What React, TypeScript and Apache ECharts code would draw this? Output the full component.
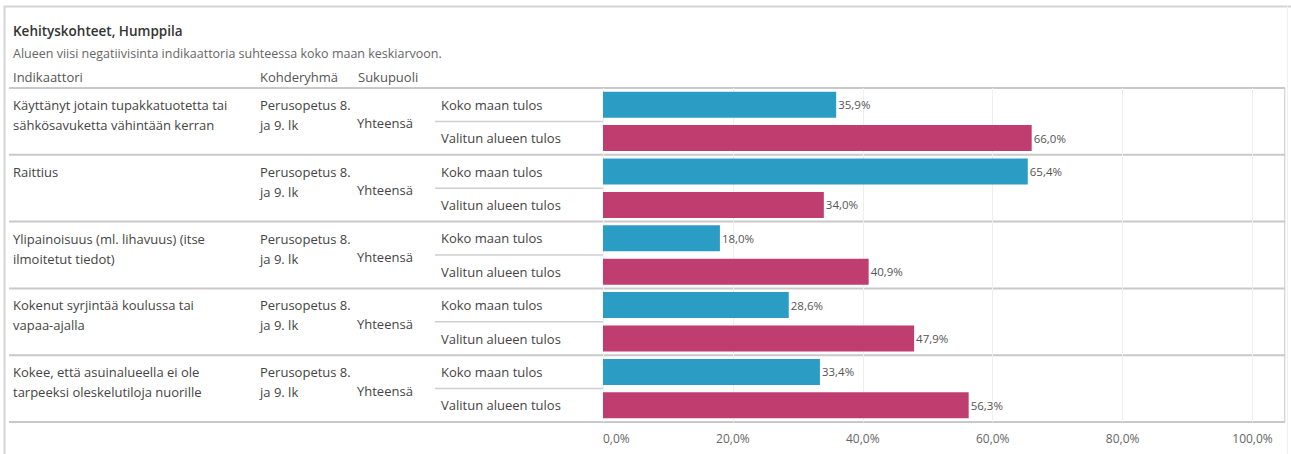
import React, { useEffect, useRef } from "react";
import * as echarts from "echarts";

const title = "Kehityskohteet, Humppila";
const subtitle = "Alueen viisi negatiivisinta indikaattoria suhteessa koko maan keskiarvoon.";
const headers = ["Indikaattori", "Kohderyhmä", "Sukupuoli"];
const indicators = [
  "Käyttänyt jotain tupakkatuotetta tai\nsähkösavuketta vähintään kerran",
  "Raittius",
  "Ylipainoisuus (ml. lihavuus) (itse\nilmoitetut tiedot)",
  "Kokenut syrjintää koulussa tai\nvapaa-ajalla",
  "Kokee, että asuinalueella ei ole\ntarpeeksi oleskelutiloja nuorille",
];
const targetGroups = [
  "Perusopetus 8.\nja 9. lk",
  "Perusopetus 8.\nja 9. lk",
  "Perusopetus 8.\nja 9. lk",
  "Perusopetus 8.\nja 9. lk",
  "Perusopetus 8.\nja 9. lk",
];
const genders = ["Yhteensä", "Yhteensä", "Yhteensä", "Yhteensä", "Yhteensä"];
const measures = ["Koko maan tulos", "Valitun alueen tulos"];
const kokoMaa = [35.9, 65.4, 18.0, 28.6, 33.4];
const valittu = [66.0, 34.0, 40.9, 47.9, 56.3];

const W = 1291;
const H = 454;
const FONT = "'Open Sans', sans-serif";

export default function App() {
  const ref = useRef<HTMLDivElement>(null);
  useEffect(() => {
    if (!ref.current) return;
    const chart = echarts.init(ref.current, undefined, { renderer: "svg" });

    const gridLeft = 603;
    const gridRightX = 1285;
    const gridTop = 88;
    const gridBottomY = 422;
    const rowH = (gridBottomY - gridTop) / indicators.length;

    const categories: string[] = [];
    const blue: any[] = [];
    const red: any[] = [];
    indicators.forEach((_, i) => {
      categories.push(measures[0], measures[1]);
      blue.push(kokoMaa[i], "-");
      red.push("-", valittu[i]);
    });

    const fmt = (v: number) => v.toFixed(1).replace(".", ",") + "%";

    const lineColor = "#c9c9c9";
    const textColor = "#444";
    const graphic: any[] = [];
    // outer frame
    graphic.push({ type: "line", shape: { x1: 4, y1: 6.5, x2: W, y2: 6.5 }, style: { stroke: "#d4d4d4", lineWidth: 2 }, silent: true });
    graphic.push({ type: "line", shape: { x1: 4.5, y1: 6, x2: 4.5, y2: H }, style: { stroke: "#d4d4d4", lineWidth: 2 }, silent: true });
    graphic.push({ type: "line", shape: { x1: 1287.5, y1: 6, x2: 1287.5, y2: H }, style: { stroke: "#f0f0f0", lineWidth: 1 }, silent: true });
    // plot right border
    graphic.push({ type: "line", shape: { x1: gridRightX, y1: gridTop, x2: gridRightX, y2: gridBottomY }, style: { stroke: lineColor, lineWidth: 1.5 }, silent: true });
    // title texts
    graphic.push({ type: "text", x: 13, y: 31, style: { text: title, font: `600 13.5px ${FONT}`, fill: "#333", verticalAlign: "middle" } });
    graphic.push({ type: "text", x: 13, y: 53, style: { text: subtitle, font: `12.5px ${FONT}`, fill: "#666", verticalAlign: "middle" } });
    const headerX = [13, 260, 358];
    headers.forEach((h, k) => {
      graphic.push({ type: "text", x: headerX[k], y: 77, style: { text: h, font: `13px ${FONT}`, fill: "#555", verticalAlign: "middle" } });
    });
    // row lines
    for (let i = 0; i <= indicators.length; i++) {
      const y = gridTop + i * rowH;
      graphic.push({ type: "line", shape: { x1: 9, y1: y, x2: gridRightX, y2: y }, style: { stroke: lineColor, lineWidth: 2 }, silent: true });
    }
    indicators.forEach((ind, i) => {
      const top = gridTop + i * rowH;
      graphic.push({ type: "text", x: 13, y: top + 7, style: { text: ind, font: `13px ${FONT}`, fill: textColor, verticalAlign: "top", lineHeight: 20 } });
      graphic.push({ type: "text", x: 260, y: top + 7, style: { text: targetGroups[i], font: `13px ${FONT}`, fill: textColor, verticalAlign: "top", lineHeight: 20 } });
      graphic.push({ type: "text", x: 357, y: top + rowH / 2 + 2, style: { text: genders[i], font: `13px ${FONT}`, fill: textColor, verticalAlign: "middle" } });
      graphic.push({ type: "line", shape: { x1: 435, y1: top + rowH / 2, x2: gridLeft, y2: top + rowH / 2 }, style: { stroke: "#cfcfcf", lineWidth: 1.5 }, silent: true });
    });

    chart.setOption({
      animation: false,
      backgroundColor: "#fff",
      textStyle: { fontFamily: FONT },
      grid: { left: gridLeft, top: gridTop, right: W - gridRightX, bottom: H - gridBottomY, containLabel: false },
      xAxis: {
        type: "value",
        min: 0,
        max: 105,
        interval: 20,
        axisLine: { show: false },
        axisTick: { show: false },
        splitLine: { show: true, lineStyle: { color: "#efefef", width: 1 } },
        axisLabel: {
          color: "#666",
          fontSize: 12,
          margin: 10,
          showMaxLabel: false,
          alignMinLabel: "left",
          formatter: (v: number) => (v % 20 === 0 ? fmt(v) : ""),
        },
      },
      yAxis: {
        type: "category",
        inverse: true,
        data: categories,
        axisLine: { show: false },
        axisTick: { show: false },
        splitLine: { show: false },
        axisLabel: { align: "left", margin: gridLeft - 441, color: textColor, fontSize: 13 },
      },
      series: [
        {
          type: "bar",
          data: blue,
          barWidth: 26,
          barGap: "-100%",
          itemStyle: { color: "#2b9dc5" },
          label: { show: true, position: "right", distance: 2, color: "#555", fontSize: 11.5, formatter: (p: any) => fmt(p.value) },
        },
        {
          type: "bar",
          data: red,
          barWidth: 26,
          barGap: "-100%",
          itemStyle: { color: "#bf3e6f" },
          label: { show: true, position: "right", distance: 2, color: "#555", fontSize: 11.5, formatter: (p: any) => fmt(p.value) },
        },
      ],
      graphic,
    });
    return () => chart.dispose();
  }, []);
  return <div ref={ref} style={{ position: "fixed", left: 0, top: 0, width: W, height: H }} />;
}
